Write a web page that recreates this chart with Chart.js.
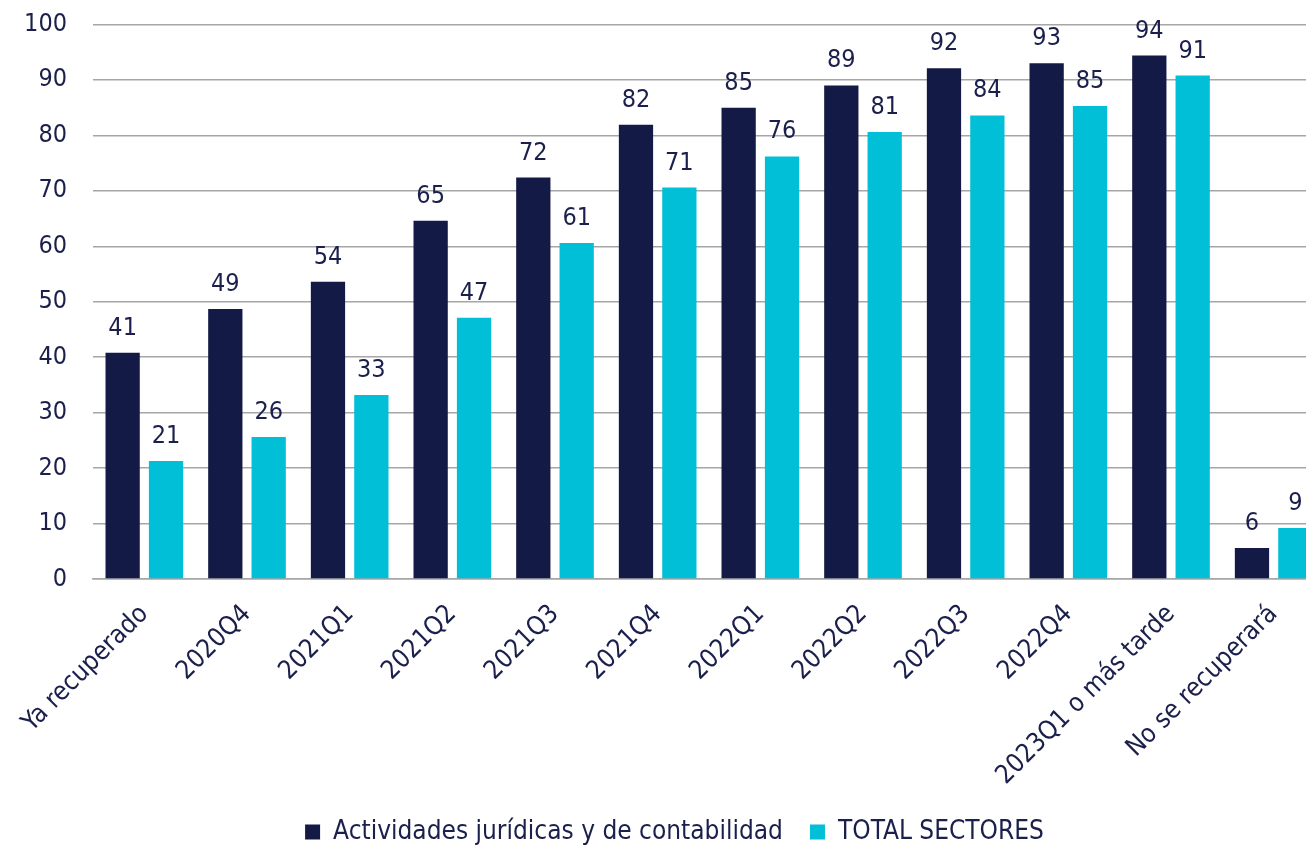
<!DOCTYPE html>
<html>
<head>
<meta charset="utf-8">
<style>
  html, body { margin: 0; padding: 0; background: #ffffff; overflow: hidden; }
  #wrap { width: 1360px; height: 845px; }
</style>
</head>
<body>
<div id="wrap"><canvas id="myChart" width="1360" height="845"></canvas></div>

<script src="https://cdn.jsdelivr.net/npm/chart.js@4.4.0/dist/chart.umd.min.js"></script>
<script>
// -----------------------------
// - Data -
// -----------------------------
var categories = ["Ya recuperado", "2020Q4", "2021Q1", "2021Q2", "2021Q3", "2021Q4",
                  "2022Q1", "2022Q2", "2022Q3", "2022Q4", "2023Q1 o más tarde", "No se recuperará"];
var seriesNames = ["Actividades jurídicas y de contabilidad", "TOTAL SECTORES"];
var juridicas = [40.8, 48.7, 53.6, 64.6, 72.4, 81.9, 85.0, 89.0, 92.1, 93.0, 94.4, 5.6];
var totalSectores = [21.3, 25.6, 33.2, 47.1, 60.6, 70.6, 76.2, 80.6, 83.6, 85.3, 90.8, 9.2];
var yTicks = [0, 10, 20, 30, 40, 50, 60, 70, 80, 90, 100];

var navy = "#131a46";
var cyan = "#00bfd6";
var textColor = "#1a1f4b";
var fontFamily = "'DejaVu Sans Condensed', 'DejaVu Sans', sans-serif";
var fontSize = 25;

// ------------
// - Value labels above bars -
// ------------
var valueLabels = {
    id: "valueLabels",
    afterDatasetsDraw: function (chart) {
        var ctx = chart.ctx;
        ctx.save();
        ctx.fillStyle = textColor;
        ctx.font = fontSize + "px " + fontFamily;
        ctx.textAlign = "center";
        ctx.textBaseline = "bottom";
        chart.data.datasets.forEach(function (ds, i) {
            var meta = chart.getDatasetMeta(i);
            meta.data.forEach(function (bar, j) {
                ctx.fillText(Math.round(ds.data[j]), bar.x, bar.y - 12);
            });
        });
        ctx.restore();
    }
};

var ctx = document.getElementById("myChart");

var myChart = new Chart(ctx, {
    type: "bar",
    data: {
        labels: categories,
        datasets: [{
            label: seriesNames[0],
            data: juridicas,
            backgroundColor: navy,
            barPercentage: 0.79,
            categoryPercentage: 0.845
        }, {
            label: seriesNames[1],
            data: totalSectores,
            backgroundColor: cyan,
            barPercentage: 0.79,
            categoryPercentage: 0.845
        }]
    },
    options: {
        responsive: false,
        animation: false,
        layout: { padding: { left: 24, top: 24.5, right: 35, bottom: -10 } },
        plugins: {
            tooltip: { enabled: false },
            legend: {
                position: "bottom",
                labels: {
                    color: textColor,
                    font: { family: fontFamily, size: 26, lineHeight: 1 },
                    boxWidth: 15,
                    boxHeight: 15,
                    padding: 27
                }
            }
        },
        scales: {
            x: {
                afterFit: function (axis) {
                    axis.paddingLeft = 0;
                    axis.paddingRight = 0;
                    axis.height = 213;
                },
                grid: { display: false, drawTicks: false },
                border: { color: "#a6a6a6", width: 1.5 },
                ticks: {
                    color: textColor,
                    font: { family: fontFamily, size: 26 },
                    minRotation: 45,
                    maxRotation: 45,
                    autoSkip: false,
                    padding: 20
                }
            },
            y: {
                min: 0,
                max: 100,
                afterBuildTicks: function (axis) {
                    axis.ticks = yTicks.map(function (v) { return { value: v }; });
                },
                afterFit: function (axis) {
                    axis.paddingTop = 0;
                    axis.paddingBottom = 0;
                    axis.width = 69;
                },
                grid: { color: "#a6a6a6", lineWidth: 1.5, drawTicks: false },
                border: { display: false },
                ticks: {
                    color: textColor,
                    font: { family: fontFamily, size: fontSize },
                    padding: 26
                }
            }
        }
    },
    plugins: [valueLabels]
});
</script>
</body>
</html>
